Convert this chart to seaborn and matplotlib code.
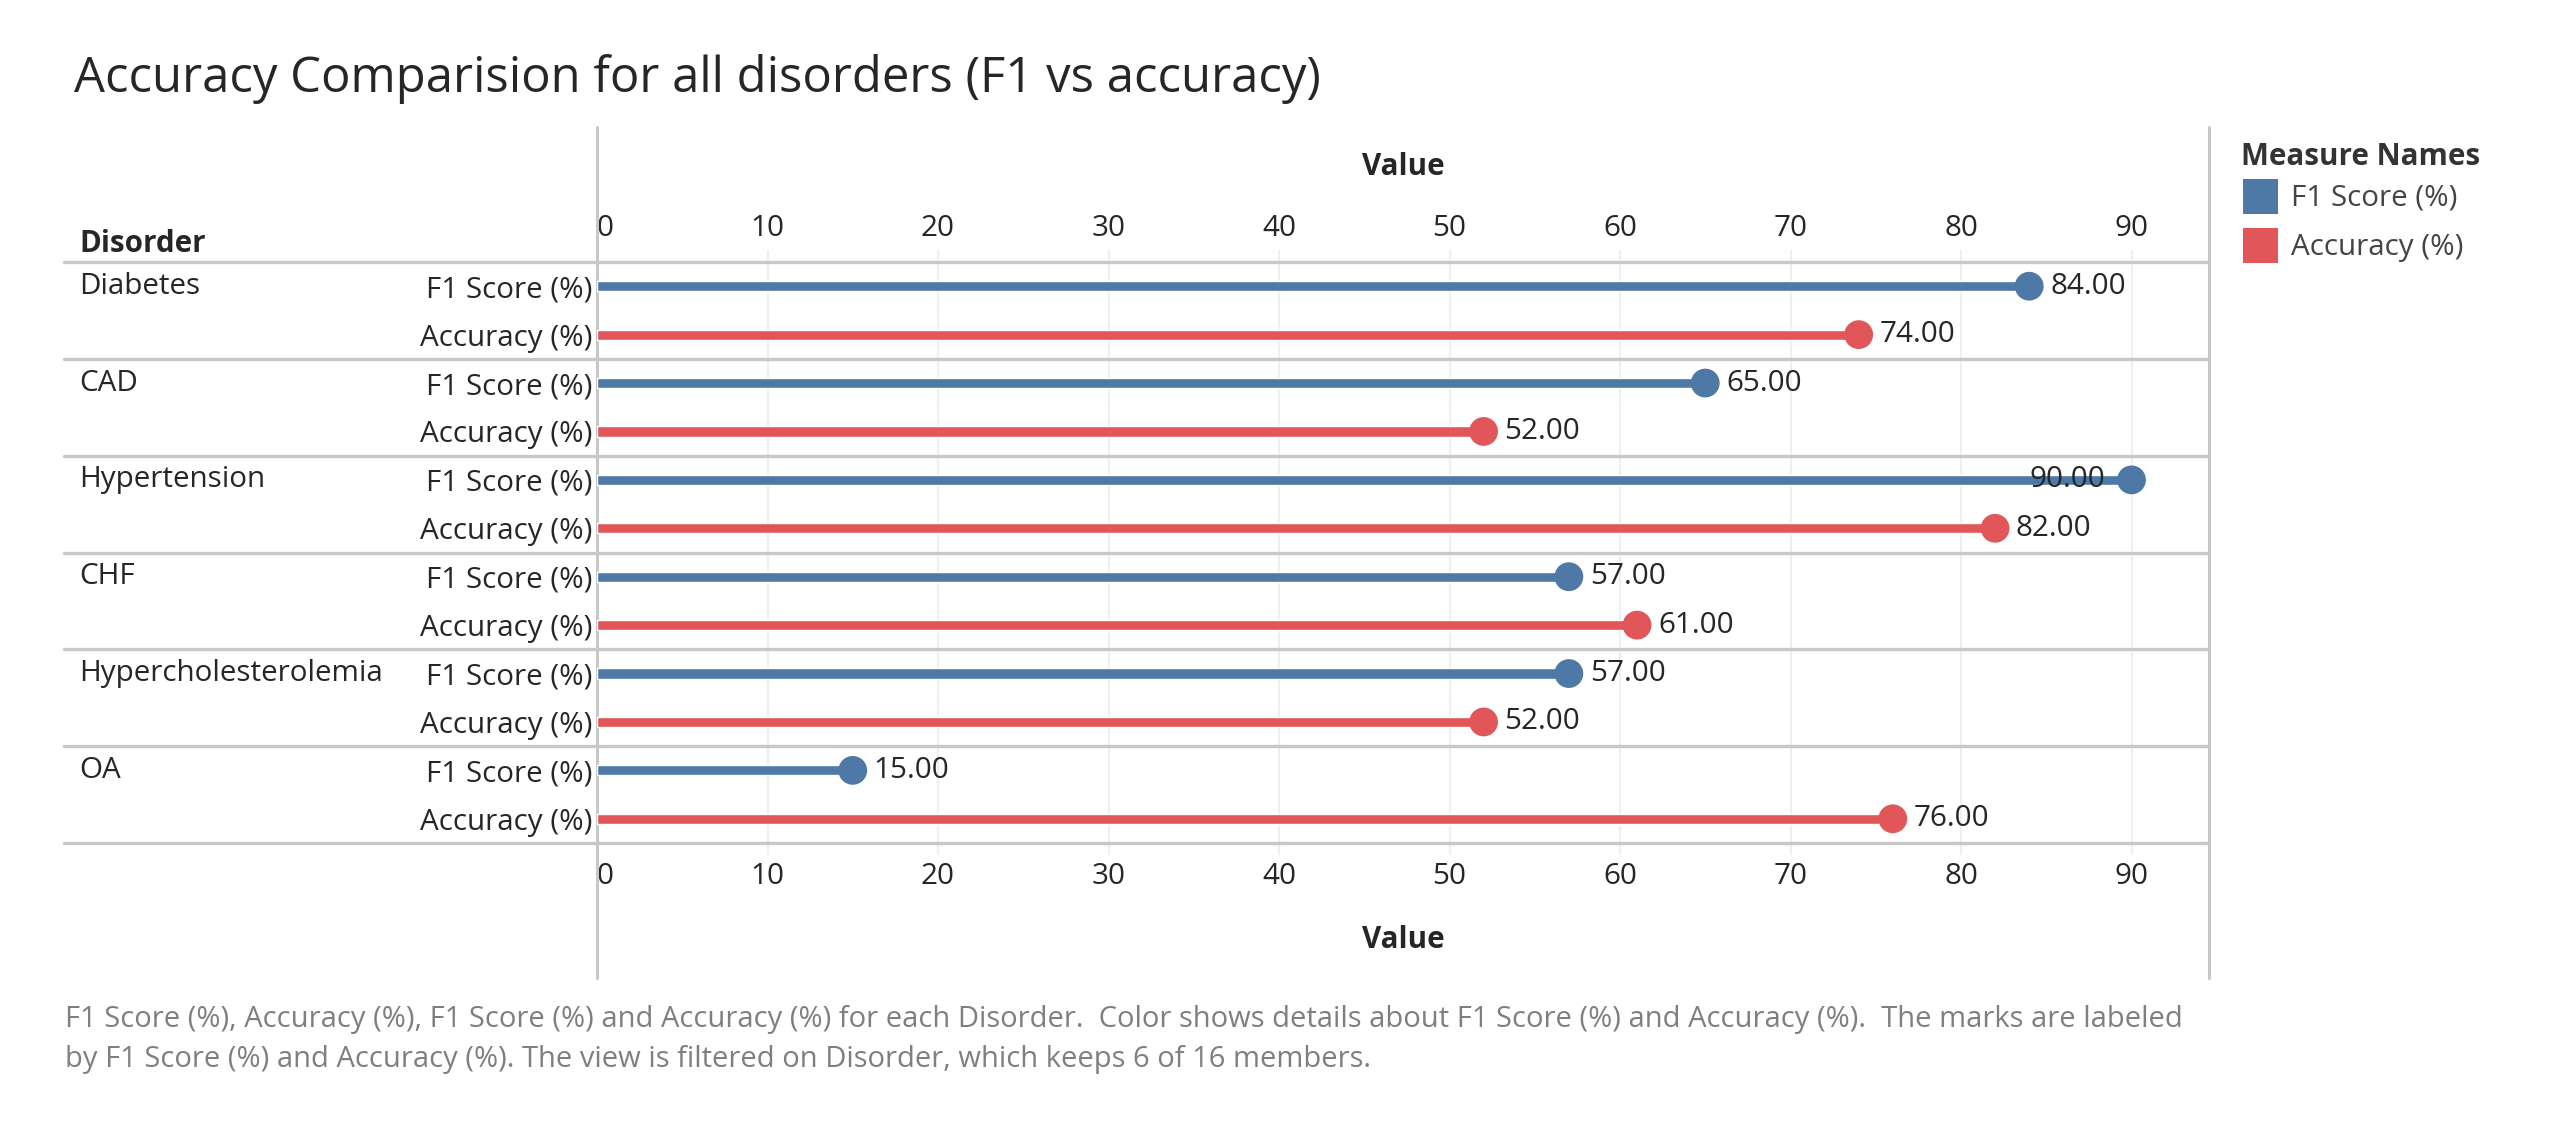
import matplotlib
matplotlib.use('Agg')
import matplotlib.pyplot as plt
from matplotlib.patches import Rectangle
import numpy as np
import pandas as pd
import seaborn as sns

# data
disorders = ['Diabetes', 'CAD', 'Hypertension', 'CHF', 'Hypercholesterolemia', 'OA']
f1_scores = [84, 65, 90, 57, 57, 15]
accuracies = [74, 52, 82, 61, 52, 76]
measures = ['F1 Score (%)', 'Accuracy (%)']
x_ticks = [0, 10, 20, 30, 40, 50, 60, 70, 80, 90]

title = 'Accuracy Comparision for all disorders (F1 vs accuracy)'
caption = [
    'F1 Score (%), Accuracy (%), F1 Score (%) and Accuracy (%) for each Disorder.  '
    'Color shows details about F1 Score (%) and Accuracy (%).  The marks are labeled',
    'by F1 Score (%) and Accuracy (%). The view is filtered on Disorder, which keeps 6 of 16 members.',
]

BLUE = '#4E79A7'
RED = '#E15759'
palette = {measures[0]: BLUE, measures[1]: RED}
LINE = '#C8C8C8'
GRID = '#EFEFEF'
FS = 21.3

sns.set_style('white')
plt.rcParams['font.family'] = ['Open Sans', 'DejaVu Sans']

W, H = 2554, 1134


def fx(px):
    return px / W


def fy(py):
    return 1 - py / H


rows = []
for d, f, a in zip(disorders, f1_scores, accuracies):
    rows.append((d, measures[0], f))
    rows.append((d, measures[1], a))
df = pd.DataFrame(rows, columns=['Disorder', 'Measure', 'Value'])
df['pos'] = np.arange(len(df))

# pane geometry in pixels
left, right, top, bottom = 597, 2209, 262, 843
fig = plt.figure(figsize=(W / 100, H / 100), dpi=100)
ax = fig.add_axes([fx(left), fy(bottom), (right - left) / W, (bottom - top) / H])

sns.barplot(data=df, x='Value', y='pos', hue='Measure', palette=palette,
            orient='h', dodge=False, width=0.21, saturation=1,
            legend=False, ax=ax, zorder=2)
sns.scatterplot(data=df, x='Value', y='pos', hue='Measure', palette=palette,
                s=430, linewidth=0, legend=False, ax=ax, zorder=3)

ax.set_xlim(0, (right - left) / 17.05)
ax.set_ylim(len(df) - 0.5, -0.5)
ax.set_xlabel('')
ax.set_ylabel('')
for s in ax.spines.values():
    s.set_visible(False)

ax.set_xticks(x_ticks)
ax.grid(axis='x', color=GRID, lw=1.5)
ax.grid(axis='y', visible=False)
ax.set_axisbelow(True)
ax.tick_params(axis='x', top=True, bottom=True, labeltop=True, labelbottom=True,
               length=8.6, width=1.5, color=GRID, direction='out',
               labelsize=FS, pad=5)
for lab in (ax.xaxis.get_major_ticks()[0].label1, ax.xaxis.get_major_ticks()[0].label2):
    lab.set_ha('left')

ax.set_yticks(df['pos'])
ax.set_yticklabels(df['Measure'])
ax.tick_params(axis='y', length=0, pad=3.6, labelsize=FS)

# row separators and pane borders
span = right - left
for b in np.arange(-0.5, len(df), 2):
    ax.axhline(b, xmin=(64 - left) / span, xmax=1, color=LINE, lw=2.4,
               clip_on=False, zorder=1)
ext_lo = (bottom - 978) / (bottom - top)
ext_hi = (bottom - 127) / (bottom - top)
for xv in ax.get_xlim():
    ax.axvline(xv, ymin=ext_lo, ymax=ext_hi, color=LINE, lw=2.2,
               clip_on=False, zorder=1)

# value labels
for v, p in zip(df['Value'], df['pos']):
    if v >= 88:
        ax.annotate(f'{v:.2f}', (v, p), xytext=(-18.7, 0), textcoords='offset points',
                    ha='right', va='center', fontsize=FS, zorder=4)
    else:
        ax.annotate(f'{v:.2f}', (v, p), xytext=(15, 0), textcoords='offset points',
                    ha='left', va='center', fontsize=FS, zorder=4)

# disorder header column
for i, d in enumerate(disorders):
    ax.annotate(d, xy=(fx(79), 2 * i), xycoords=('figure fraction', 'data'),
                ha='left', va='center', fontsize=FS)
fig.text(fx(79), fy(252), 'Disorder', fontsize=FS, fontweight='bold', va='baseline')

fig.text(fx((left + right) / 2), fy(167), 'Value', fontsize=FS, fontweight='bold',
         ha='center', va='center')
fig.text(fx((left + right) / 2), fy(940), 'Value', fontsize=FS, fontweight='bold',
         ha='center', va='center')

fig.text(fx(74), fy(92), title, fontsize=35.3, va='baseline')

# legend
fig.text(fx(2241), fy(165), 'Measure Names', fontsize=FS, fontweight='bold',
         color='#333333', va='baseline')
for k, (m, c) in enumerate(palette.items()):
    y0 = 179 + 49 * k
    fig.add_artist(Rectangle((fx(2243), fy(y0 + 35)), 35 / W, 35 / H,
                             transform=fig.transFigure, color=c, lw=0))
    fig.text(fx(2291), fy(y0 + 19), m, fontsize=FS, color='#444444', va='center')

for k, line in enumerate(caption):
    fig.text(fx(65), fy(1020 + 40 * k), line, fontsize=21, color='#7F7F7F', va='center')

fig.savefig('out.png', dpi=100)
